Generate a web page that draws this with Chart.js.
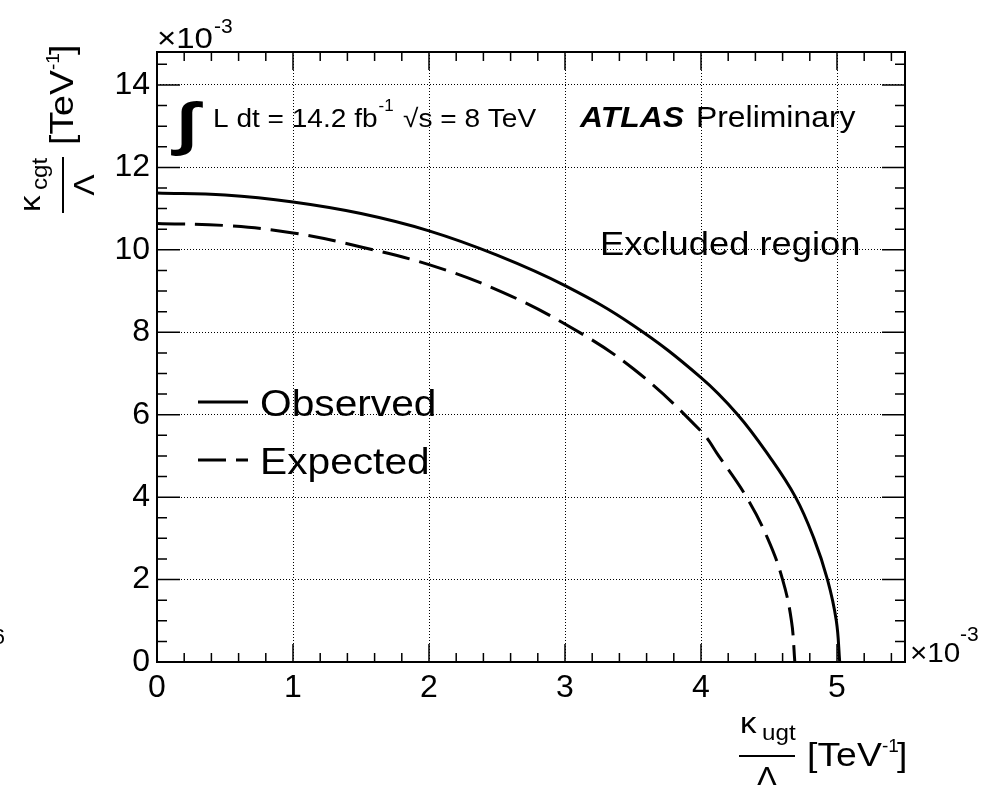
<!DOCTYPE html>
<html>
<head>
<meta charset="utf-8">
<script src="https://cdn.jsdelivr.net/npm/chart.js@4.4.1/dist/chart.umd.min.js"></script>
<style>
  html, body { margin: 0; padding: 0; background: #fff; }
  #holder { width: 1000px; height: 785px; position: relative; }
</style>
</head>
<body>
<div id="holder"><canvas id="limites"></canvas></div>
<script>
/* limites de exclusion en el plano kappa_ugt/Lambda - kappa_cgt/Lambda (x1e-3 TeV^-1) */

// curva observada
var obsX = [0, 0.5, 1, 1.5, 2, 2.5, 3, 3.5, 4, 4.27, 4.5, 4.695, 4.83, 4.93, 4.995, 5.02];
var obsY = [11.38, 11.33, 11.16, 10.88, 10.46, 9.87, 9.13, 8.17, 6.9, 6, 5, 4, 3, 2, 1, 0];

// curva esperada
var expX = [0, 0.5, 1, 1.5, 2, 2.5, 3, 3.5, 4, 4.13, 4.335, 4.49, 4.6, 4.665, 4.69];
var expY = [10.64, 10.59, 10.41, 10.07, 9.64, 9.03, 8.2, 7.12, 5.6, 5, 4, 3, 2, 1, 0];

var xTicks = [0, 1, 2, 3, 4, 5];
var yTicks = [0, 2, 4, 6, 8, 10, 12, 14];
var nombres = ["Observed", "Expected"];

var FUENTE = "'Liberation Sans', Arial, Helvetica, sans-serif";

function puntos(xs, ys) {
  return xs.map(function (x, i) { return { x: x, y: ys[i] }; });
}

// texto estirado un poco a lo ancho, como en el original
function texto(ctx, s, x, y, size, estilo, align, estira) {
  var k = estira || 1.1;
  ctx.save();
  ctx.font = (estilo ? estilo + " " : "") + size + "px " + FUENTE;
  ctx.fillStyle = "#000";
  ctx.textBaseline = "alphabetic";
  ctx.textAlign = "left";
  var w = ctx.measureText(s).width * k;
  if (align === "center") x -= w / 2;
  if (align === "right") x -= w;
  ctx.translate(x, y);
  ctx.scale(k, 1);
  ctx.fillText(s, 0, 0);
  ctx.restore();
  return w;
}

// titulo del eje: kappa_sub / Lambda [TeV^-1]
function tituloEje(ctx, sub, ox, oy, rotado) {
  ctx.save();
  ctx.translate(ox, oy);
  if (rotado) ctx.rotate(-Math.PI / 2);
  texto(ctx, "\u03BA", 1, -23, 30);
  texto(ctx, sub, 23, -16, 22);
  ctx.strokeStyle = "#000";
  ctx.lineWidth = 2;
  ctx.beginPath(); ctx.moveTo(0, 0); ctx.lineTo(56, 0); ctx.stroke();
  texto(ctx, "\u039B", 28, 31, 29, "", "center");
  texto(ctx, "[TeV", 68, 10, 34);
  ctx.font = "19px " + FUENTE;
  ctx.fillText("-1", 143, -4);
  texto(ctx, "]", 158, 10, 34);
  ctx.restore();
}

var decoracion = {
  id: 'decoracion',
  afterDraw: function (chart) {
    var ctx = chart.ctx;
    var a = chart.chartArea;
    var sx = chart.scales.x, sy = chart.scales.y;
    ctx.save();

    // marcas hacia adentro (abajo/arriba, izquierda/derecha)
    ctx.strokeStyle = "#000";
    ctx.lineWidth = 1.5;
    ctx.beginPath();
    for (var i = 0; i * 0.2 <= sx.max + 1e-9; i++) {
      var px = sx.getPixelForValue(i * 0.2);
      var l = (i % 5 === 0) ? 18 : 9;
      ctx.moveTo(px, a.bottom); ctx.lineTo(px, a.bottom - l);
      ctx.moveTo(px, a.top); ctx.lineTo(px, a.top + l);
    }
    for (var j = 0; j * 0.5 <= sy.max + 1e-9; j++) {
      var py = sy.getPixelForValue(j * 0.5);
      var m = (j % 4 === 0) ? 23 : 10;
      ctx.moveTo(a.left, py); ctx.lineTo(a.left + m, py);
      ctx.moveTo(a.right, py); ctx.lineTo(a.right - m, py);
    }
    ctx.stroke();

    // marco
    ctx.lineWidth = 2;
    ctx.strokeRect(a.left, a.top, a.right - a.left, a.bottom - a.top);

    // multiplicadores x10^-3
    texto(ctx, "\u00D710", 157, 48, 30);
    ctx.font = "21px " + FUENTE;
    ctx.fillText("-3", 214, 33);
    texto(ctx, "\u00D710", 910, 662, 27);
    ctx.font = "21px " + FUENTE;
    ctx.fillText("-3", 960, 641);

    // titulos de ejes
    tituloEje(ctx, "ugt", 739, 756, false);
    tituloEje(ctx, "cgt", 63, 213, true);

    // anotaciones
    texto(ctx, "\u222B", 176, 143, 58, "bold", "", 1.35);
    var w = texto(ctx, "L dt = 14.2 fb", 213, 127, 25.5);
    ctx.font = "17px " + FUENTE;
    ctx.fillText("-1", 213 + w + 1, 111);
    texto(ctx, "\u221As = 8 TeV", 403, 127, 25.5);
    var wa = texto(ctx, "ATLAS", 580, 127, 29, "italic bold");
    texto(ctx, "Preliminary", 580 + wa + 12, 127, 29);
    texto(ctx, "Excluded region", 600, 255, 33);

    // leyenda
    var filas = [402, 460];
    chart.data.datasets.forEach(function (ds, k) {
      ctx.save();
      ctx.strokeStyle = ds.borderColor;
      ctx.lineWidth = ds.borderWidth;
      ctx.setLineDash(ds.borderDash || []);
      ctx.beginPath();
      ctx.moveTo(198, filas[k]); ctx.lineTo(248, filas[k]);
      ctx.stroke();
      ctx.restore();
      texto(ctx, ds.label, 260, filas[k] + 14, 37);
    });

    // resto de un caracter cortado en el borde
    ctx.font = "22px " + FUENTE;
    ctx.textAlign = "right";
    ctx.fillText("6", 5, 644);

    ctx.restore();
  }
};

var config = {
  type: 'line',
  data: {
    datasets: [
      {
        label: nombres[0],
        data: puntos(obsX, obsY),
        borderColor: '#000',
        borderWidth: 3,
        pointRadius: 0,
        tension: 0.4,
        fill: false
      },
      {
        label: nombres[1],
        data: puntos(expX, expY),
        borderColor: '#000',
        borderWidth: 3,
        borderDash: [28, 10],
        pointRadius: 0,
        tension: 0.4,
        fill: false
      }
    ]
  },
  options: {
    responsive: true,
    maintainAspectRatio: false,
    animation: false,
    layout: { padding: { left: 0, top: 52, right: 95, bottom: 63 } },
    plugins: {
      legend: { display: false },
      tooltip: { enabled: false }
    },
    scales: {
      x: {
        type: 'linear',
        min: 0,
        max: 5.5,
        afterBuildTicks: function (s) { s.ticks = xTicks.map(function (v) { return { value: v }; }); },
        afterFit: function (s) { s.height = 60; },
        ticks: { color: '#000', font: { size: 32, family: FUENTE }, padding: 7, maxRotation: 0, autoSkip: false },
        grid: { color: '#000', lineWidth: 1, drawTicks: false },
        border: { display: false, dash: [1, 2] }
      },
      y: {
        type: 'linear',
        min: 0,
        max: 14.8,
        afterBuildTicks: function (s) { s.ticks = yTicks.map(function (v) { return { value: v }; }); },
        afterFit: function (s) { s.width = 157; },
        ticks: { color: '#000', font: { size: 32, family: FUENTE }, padding: 7, autoSkip: false },
        grid: { color: '#000', lineWidth: 1, drawTicks: false },
        border: { display: false, dash: [1, 2] }
      }
    }
  },
  plugins: [decoracion]
};

// definición del gráfico
var chart = new Chart(document.getElementById("limites").getContext("2d"), config);
</script>
</body>
</html>
